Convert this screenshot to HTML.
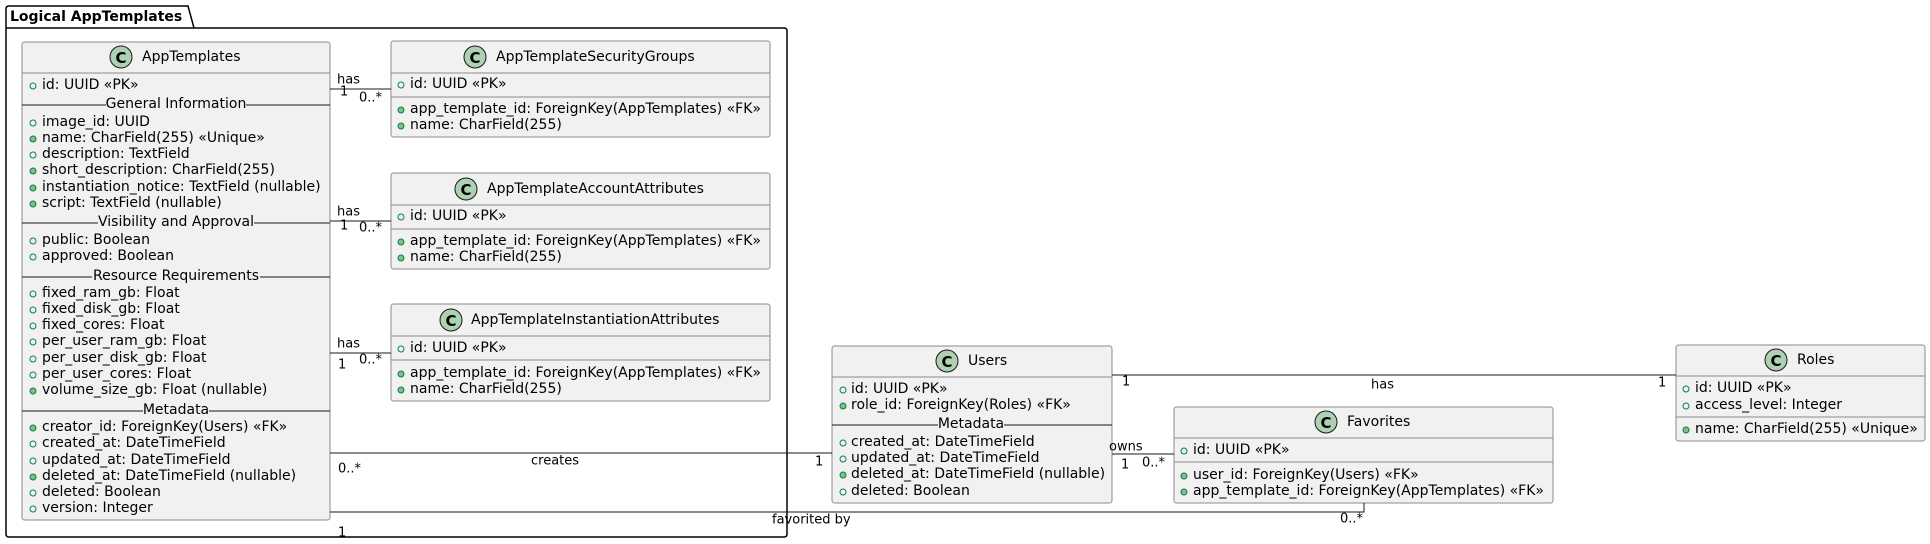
<!DOCTYPE html>
<html><head><meta charset="utf-8"><style>
html,body{margin:0;padding:0;background:#fff;}
svg{display:block;}
text{font-family:"DejaVu Sans","Liberation Sans",sans-serif;font-size:14px;fill:#000;dominant-baseline:central;}
.s{font-size:13px;}
.box{fill:#F1F1F1;stroke:#8a8a8a;stroke-width:1;}
.sep{stroke:#8a8a8a;stroke-width:1;}
.sec{stroke:#181818;stroke-width:1;}
.ln{stroke:#181818;stroke-width:1;fill:none;}
.c{fill:#ADD1B2;stroke:#181818;stroke-width:1;}
.ct{font-size:15px;font-weight:bold;text-anchor:middle;}
.o{fill:none;stroke:#038048;stroke-width:1;}
.f{fill:#84BE84;stroke:#038048;stroke-width:1;}
.mid{text-anchor:middle;}
</style></head><body>
<svg width="1930" height="544" viewBox="0 0 1930 544" xmlns="http://www.w3.org/2000/svg">
<path d="M6,28 L6,9 Q6,6 9,6 L188,6 L194,28 L784,28 Q787,28 787,31 L787,534 Q787,537 784,537 L9,537 Q6,537 6,534 Z" fill="none" stroke="#000" stroke-width="1.5"/>
<line x1="6" y1="28" x2="194" y2="28" stroke="#000" stroke-width="1.5"/>
<text x="10" y="17" style="font-weight:bold">Logical AppTemplates</text>

<rect class="box" x="22" y="42" width="308" height="478" rx="2.5"/>
<line class="sep" x1="22" y1="73" x2="330" y2="73"/>
<circle class="c" cx="121" cy="57" r="11"/><text class="ct" x="121" y="58">C</text>
<text x="142" y="57">AppTemplates</text>
<circle class="o" cx="33" cy="86" r="3"/><text x="42" y="85">id: UUID «PK»</text>
<line class="sec" x1="22" y1="105" x2="330" y2="105"/>
<rect x="106" y="97" width="140" height="16" fill="#F1F1F1"/><text class="mid" x="176" y="104">General Information</text>
<circle class="o" cx="33" cy="123" r="3"/><text x="42" y="122">image_id: UUID</text>
<circle class="f" cx="33" cy="139" r="3"/><text x="42" y="138">name: CharField(255) «Unique»</text>
<circle class="o" cx="33" cy="155" r="3"/><text x="42" y="154">description: TextField</text>
<circle class="f" cx="33" cy="171" r="3"/><text x="42" y="170">short_description: CharField(255)</text>
<circle class="f" cx="33" cy="188" r="3"/><text x="42" y="187">instantiation_notice: TextField (nullable)</text>
<circle class="f" cx="33" cy="204" r="3"/><text x="42" y="203">script: TextField (nullable)</text>
<line class="sec" x1="22" y1="223" x2="330" y2="223"/>
<rect x="98" y="215" width="156" height="16" fill="#F1F1F1"/><text class="mid" x="176" y="222">Visibility and Approval</text>
<circle class="o" cx="33" cy="241" r="3"/><text x="42" y="240">public: Boolean</text>
<circle class="o" cx="33" cy="257" r="3"/><text x="42" y="256">approved: Boolean</text>
<line class="sec" x1="22" y1="277" x2="330" y2="277"/>
<rect x="92" y="269" width="168" height="16" fill="#F1F1F1"/><text class="mid" x="176" y="276">Resource Requirements</text>
<circle class="o" cx="33" cy="294" r="3"/><text x="42" y="293">fixed_ram_gb: Float</text>
<circle class="o" cx="33" cy="310" r="3"/><text x="42" y="309">fixed_disk_gb: Float</text>
<circle class="o" cx="33" cy="326" r="3"/><text x="42" y="325">fixed_cores: Float</text>
<circle class="o" cx="33" cy="342" r="3"/><text x="42" y="341">per_user_ram_gb: Float</text>
<circle class="o" cx="33" cy="359" r="3"/><text x="42" y="358">per_user_disk_gb: Float</text>
<circle class="o" cx="33" cy="375" r="3"/><text x="42" y="374">per_user_cores: Float</text>
<circle class="f" cx="33" cy="391" r="3"/><text x="42" y="390">volume_size_gb: Float (nullable)</text>
<line class="sec" x1="22" y1="411" x2="330" y2="411"/>
<rect x="143" y="403" width="66" height="16" fill="#F1F1F1"/><text class="mid" x="176" y="410">Metadata</text>
<circle class="f" cx="33" cy="428" r="3"/><text x="42" y="427">creator_id: ForeignKey(Users) «FK»</text>
<circle class="o" cx="33" cy="444" r="3"/><text x="42" y="443">created_at: DateTimeField</text>
<circle class="o" cx="33" cy="461" r="3"/><text x="42" y="460">updated_at: DateTimeField</text>
<circle class="f" cx="33" cy="477" r="3"/><text x="42" y="476">deleted_at: DateTimeField (nullable)</text>
<circle class="o" cx="33" cy="493" r="3"/><text x="42" y="492">deleted: Boolean</text>
<circle class="o" cx="33" cy="509" r="3"/><text x="42" y="508">version: Integer</text>

<rect class="box" x="391" y="41" width="379" height="96" rx="2.5"/>
<line class="sep" x1="391" y1="73" x2="770" y2="73"/>
<circle class="c" cx="475" cy="57" r="11"/><text class="ct" x="475" y="58">C</text>
<text x="496" y="57">AppTemplateSecurityGroups</text>
<circle class="o" cx="401" cy="85" r="3"/><text x="410" y="84">id: UUID «PK»</text>
<line class="sep" x1="391" y1="97" x2="770" y2="97"/>
<circle class="f" cx="401" cy="110" r="3"/><text x="410" y="109">app_template_id: ForeignKey(AppTemplates) «FK»</text>
<circle class="f" cx="401" cy="126" r="3"/><text x="410" y="125">name: CharField(255)</text>

<rect class="box" x="391" y="173" width="379" height="96" rx="2.5"/>
<line class="sep" x1="391" y1="205" x2="770" y2="205"/>
<circle class="c" cx="466" cy="189" r="11"/><text class="ct" x="466" y="190">C</text>
<text x="487" y="189">AppTemplateAccountAttributes</text>
<circle class="o" cx="401" cy="217" r="3"/><text x="410" y="216">id: UUID «PK»</text>
<line class="sep" x1="391" y1="229" x2="770" y2="229"/>
<circle class="f" cx="401" cy="242" r="3"/><text x="410" y="241">app_template_id: ForeignKey(AppTemplates) «FK»</text>
<circle class="f" cx="401" cy="258" r="3"/><text x="410" y="257">name: CharField(255)</text>

<rect class="box" x="391" y="304" width="379" height="97" rx="2.5"/>
<line class="sep" x1="391" y1="336" x2="770" y2="336"/>
<circle class="c" cx="451" cy="320" r="11"/><text class="ct" x="451" y="321">C</text>
<text x="471" y="320">AppTemplateInstantiationAttributes</text>
<circle class="o" cx="401" cy="349" r="3"/><text x="410" y="348">id: UUID «PK»</text>
<line class="sep" x1="391" y1="360" x2="770" y2="360"/>
<circle class="f" cx="401" cy="374" r="3"/><text x="410" y="373">app_template_id: ForeignKey(AppTemplates) «FK»</text>
<circle class="f" cx="401" cy="390" r="3"/><text x="410" y="389">name: CharField(255)</text>

<rect class="box" x="832" y="346" width="280" height="157" rx="2.5"/>
<line class="sep" x1="832" y1="377" x2="1112" y2="377"/>
<circle class="c" cx="947" cy="361" r="11"/><text class="ct" x="947" y="362">C</text>
<text x="968" y="361">Users</text>
<circle class="o" cx="843" cy="390" r="3"/><text x="851" y="389">id: UUID «PK»</text>
<circle class="f" cx="843" cy="406" r="3"/><text x="851" y="405">role_id: ForeignKey(Roles) «FK»</text>
<line class="sec" x1="832" y1="425" x2="1112" y2="425"/>
<rect x="938" y="417" width="66" height="16" fill="#F1F1F1"/><text class="mid" x="971" y="424">Metadata</text>
<circle class="o" cx="843" cy="443" r="3"/><text x="851" y="442">created_at: DateTimeField</text>
<circle class="o" cx="843" cy="459" r="3"/><text x="851" y="458">updated_at: DateTimeField</text>
<circle class="f" cx="843" cy="475" r="3"/><text x="851" y="474">deleted_at: DateTimeField (nullable)</text>
<circle class="o" cx="843" cy="492" r="3"/><text x="851" y="491">deleted: Boolean</text>

<rect class="box" x="1174" y="407" width="379" height="96" rx="2.5"/>
<line class="sep" x1="1174" y1="438" x2="1553" y2="438"/>
<circle class="c" cx="1326" cy="422" r="11"/><text class="ct" x="1326" y="423">C</text>
<text x="1347" y="422">Favorites</text>
<circle class="o" cx="1184" cy="451" r="3"/><text x="1193" y="450">id: UUID «PK»</text>
<line class="sep" x1="1174" y1="462" x2="1553" y2="462"/>
<circle class="f" cx="1184" cy="476" r="3"/><text x="1193" y="475">user_id: ForeignKey(Users) «FK»</text>
<circle class="f" cx="1184" cy="492" r="3"/><text x="1193" y="491">app_template_id: ForeignKey(AppTemplates) «FK»</text>

<rect class="box" x="1676" y="345" width="249" height="96" rx="2.5"/>
<line class="sep" x1="1676" y1="376" x2="1925" y2="376"/>
<circle class="c" cx="1776" cy="360" r="11"/><text class="ct" x="1776" y="361">C</text>
<text x="1797" y="360">Roles</text>
<circle class="o" cx="1686" cy="389" r="3"/><text x="1695" y="388">id: UUID «PK»</text>
<circle class="o" cx="1686" cy="406" r="3"/><text x="1695" y="405">access_level: Integer</text>
<line class="sep" x1="1676" y1="417" x2="1925" y2="417"/>
<circle class="f" cx="1686" cy="430" r="3"/><text x="1695" y="429">name: CharField(255) «Unique»</text>

<line class="ln" x1="330" y1="89" x2="391" y2="89"/>
<text class="s" x="337" y="80">has</text><text class="s" x="340" y="92">1</text><text class="s" x="359" y="98">0..*</text>
<line class="ln" x1="330" y1="221" x2="391" y2="221"/>
<text class="s" x="337" y="212">has</text><text class="s" x="340" y="226">1</text><text class="s" x="359" y="228">0..*</text>
<line class="ln" x1="330" y1="353" x2="391" y2="353"/>
<text class="s" x="337" y="344">has</text><text class="s" x="338" y="365">1</text><text class="s" x="359" y="360">0..*</text>

<line class="ln" x1="330" y1="453" x2="832" y2="453"/>
<text class="s" x="531" y="461">creates</text><text class="s" x="338" y="469">0..*</text><text class="s" x="815" y="462">1</text>

<line class="ln" x1="1112" y1="375" x2="1676" y2="375"/>
<text class="s" x="1122" y="382">1</text><text class="s" x="1371" y="385">has</text><text class="s" x="1658" y="383">1</text>

<line class="ln" x1="1112" y1="454" x2="1174" y2="454"/>
<text class="s" x="1109" y="447">owns</text><text class="s" x="1121" y="465">1</text><text class="s" x="1142" y="463">0..*</text>

<polyline class="ln" points="330,512 1364,512 1364,503"/>
<text class="s" x="772" y="520">favorited by</text><text class="s" x="338" y="533">1</text><text class="s" x="1340" y="519">0..*</text>
</svg>
</body></html>
